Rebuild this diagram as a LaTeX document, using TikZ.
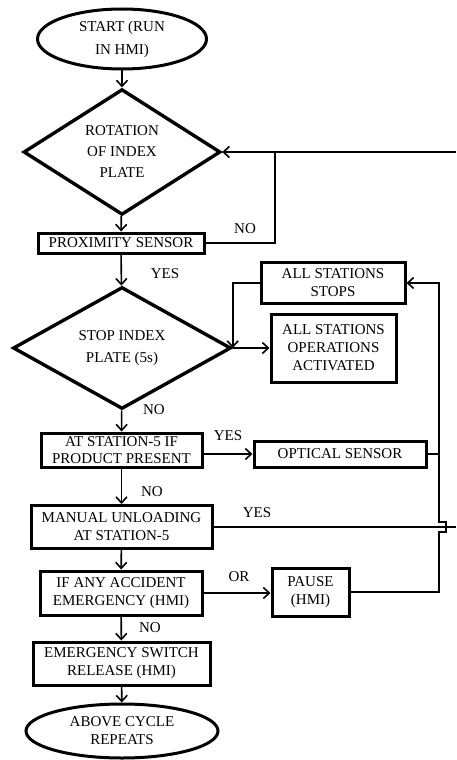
\documentclass[tikz,border=0pt]{standalone}
\usepackage{fontspec}
\setmainfont{Liberation Serif}
\usepackage{tikz}
\usetikzlibrary{shapes.geometric,arrows.meta}

\begin{document}
\begin{tikzpicture}
		[
		x = 1pt, y = -1pt,
		every node/.style = {font = \fontsize{15}{18}\selectfont},
		terminal/.style = {ellipse, draw, line width = 3pt, inner sep = 0pt, align = center},
		decision/.style = {diamond, draw, line width = 3.4pt, inner sep = 0pt, align = center},
		block/.style = {rectangle, draw, line width = 3pt, inner sep = 0pt, align = center},
		wire/.style = {line width = 1.6pt},
		connector/.style = {wire, -{Straight Barb[length = 6pt, width = 11pt, line width = 1.6pt]}}
		]
		
		\useasboundingbox (0,0) rectangle (456,760);
		
		\node [terminal, minimum width = 169pt, minimum height = 60pt, font = \fontsize{15}{23}\selectfont] (start) at (122,39) {START (RUN\\IN HMI)};
		\node [decision, minimum width = 197pt, minimum height = 125pt, font = \fontsize{15}{21}\selectfont] (rotation) at (122,152) {ROTATION\\OF INDEX\\PLATE};
		\node [block, minimum width = 166pt, minimum height = 20pt] (proximity) at (121,243) {PROXIMITY SENSOR};
		\node [decision, minimum width = 218pt, minimum height = 85pt, font = \fontsize{15}{22}\selectfont] (stopplate) at (122,348) {STOP INDEX\\PLATE (5s)};
		\node [block, minimum width = 144pt, minimum height = 41pt] (allstop) at (333,283) {ALL STATIONS\\STOPS};
		\node [block, minimum width = 125pt, minimum height = 68pt] (allact) at (333.5,348) {ALL STATIONS\\OPERATIONS\\ACTIVATED};
		\node [block, minimum width = 161pt, minimum height = 34pt, font = \fontsize{15}{17}\selectfont] (station) at (121.5,450) {AT STATION-5 IF\\PRODUCT PRESENT};
		\node [block, minimum width = 172pt, minimum height = 26pt] (optical) at (340,454) {OPTICAL SENSOR};
		\node [block, minimum width = 181pt, minimum height = 43pt] (manual) at (121.5,527) {MANUAL UNLOADING\\AT STATION-5};
		\node [block, minimum width = 162pt, minimum height = 44pt] (accident) at (121,593) {IF ANY ACCIDENT\\EMERGENCY (HMI)};
		\node [block, minimum width = 77pt, minimum height = 48pt] (pause) at (310.5,592) {PAUSE\\(HMI)};
		\node [block, minimum width = 177pt, minimum height = 43pt] (release) at (121.5,663.5) {EMERGENCY SWITCH\\RELEASE (HMI)};
		\node [terminal, minimum width = 192pt, minimum height = 54pt] (repeat) at (122,731) {ABOVE CYCLE\\REPEATS};
		
		\node (lblnotop) at (245,229) {NO};
		\node (lblyestop) at (165,274) {YES};
		\node (lblnoplate) at (154,410) {NO};
		\node (lblyesstation) at (228,436) {YES};
		\node (lblnostation) at (152,492) {NO};
		\node (lblyesmanual) at (257,513) {YES};
		\node (lblor) at (239,577) {OR};
		\node (lblnoaccident) at (150,628) {NO};
		
		\coordinate (edgetop) at (456,152);
		\coordinate (nojoin) at (275,152);
		\coordinate (edgemid) at (456,527);
		\coordinate (opjoin) at (439,454);
		\coordinate (hopbot) at (439,532);
		\coordinate (hoptop) at (439,522);
		
		\draw [connector] (start) -- (rotation);
		\draw [connector] (rotation) -- (proximity);
		\draw [connector] (edgetop) -- (rotation.east);
		\draw [wire] (proximity.east) -| (nojoin);
		\draw [connector] (proximity) -- (stopplate);
		\draw [connector] (allstop.west) -| (stopplate.east);
		\draw [connector] (stopplate.east) -- (allact.west);
		\draw [connector] (stopplate) -- (station);
		\draw [connector] (optical.west -| station.east) -- (optical.west);
		\draw [wire] (optical.east) -- (opjoin);
		\draw [connector] (station) -- (manual);
		\draw [wire] (manual.east) -- (edgemid);
		\draw [connector] (manual) -- (accident);
		\draw [connector] (accident.east) -- (accident.east -| pause.west);
		\draw [connector] (pause.east) -| (hopbot) -- ++(7,0) -- ++(0,-10) -- (hoptop) |- (allstop.east);
		\draw [connector] (accident) -- (release);
		\draw [connector] (release) -- (repeat);
		
		\end{tikzpicture}
\end{document}
